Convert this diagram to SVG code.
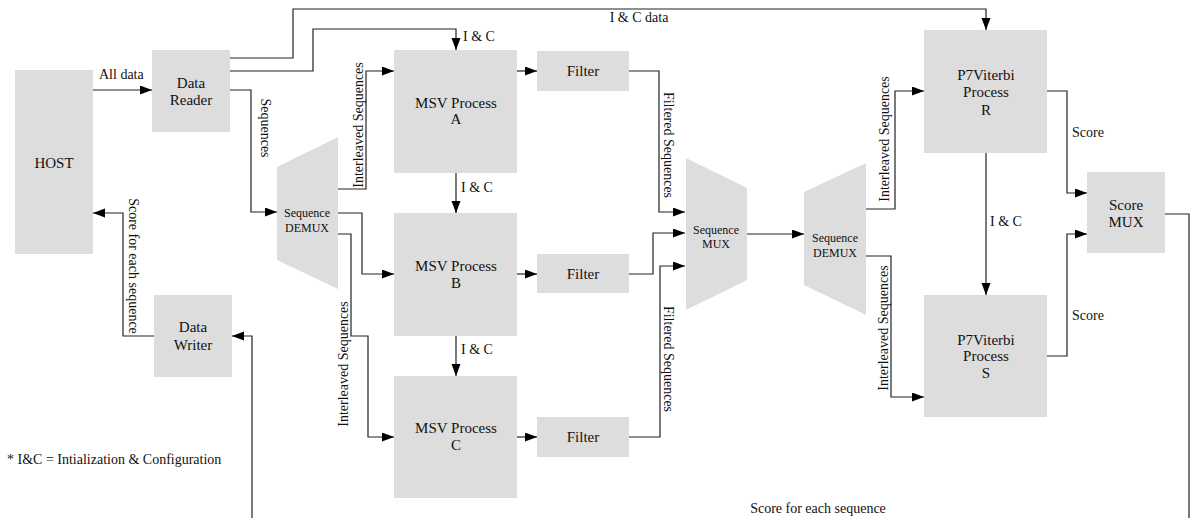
<svg xmlns="http://www.w3.org/2000/svg" width="1192" height="518" viewBox="0 0 1192 518" font-family="'Liberation Serif', 'DejaVu Serif', serif">
<defs>
<marker id="ah" markerWidth="12" markerHeight="10" refX="12" refY="4.5" orient="auto" markerUnits="userSpaceOnUse">
<path d="M0,0 L12,4.5 L0,9 z" fill="#000"/>
</marker>
<style>
text{font-family:'Liberation Serif','DejaVu Serif',serif}
.box{fill:#dddddd;stroke:none}
.t{font-size:15px;fill:#111;text-anchor:middle}
.s{font-size:12px;fill:#111;text-anchor:middle}
.l{font-size:14px;fill:#111}
.lc{font-size:14px;fill:#111;text-anchor:middle;dominant-baseline:central}
.c{fill:none;stroke:#222;stroke-width:1.2}
.a{marker-end:url(#ah)}
</style>
</defs>
<rect width="1192" height="518" fill="#fff"/>

<g id="host"><rect class="box" x="15" y="70" width="78" height="184"/><text class="t" x="54" y="168">HOST</text></g>
<g id="data-reader"><rect class="box" x="152" y="50" width="78" height="82"/><text class="t" x="191" y="88">Data</text><text class="t" x="191" y="105">Reader</text></g>
<g id="data-writer"><rect class="box" x="154" y="295" width="78" height="82"/><text class="t" x="193" y="332">Data</text><text class="t" x="193" y="350">Writer</text></g>
<g id="demux1"><polygon class="box" points="277,167 338,137 338,289 277,260"/><text class="s" x="307" y="217">Sequence</text><text class="s" x="307" y="232">DEMUX</text></g>
<g id="msv-a"><rect class="box" x="394" y="50" width="123" height="123"/><text class="t" x="456" y="108">MSV Process</text><text class="t" x="456" y="124">A</text></g>
<g id="msv-b"><rect class="box" x="394" y="213" width="123" height="123"/><text class="t" x="456" y="271">MSV Process</text><text class="t" x="456" y="288">B</text></g>
<g id="msv-c"><rect class="box" x="394" y="376" width="123" height="122"/><text class="t" x="456" y="433">MSV Process</text><text class="t" x="456" y="450">C</text></g>
<g id="filter-a"><rect class="box" x="537" y="51" width="92" height="40"/><text class="t" x="583" y="76">Filter</text></g>
<g id="filter-b"><rect class="box" x="537" y="254" width="92" height="39"/><text class="t" x="583" y="279">Filter</text></g>
<g id="filter-c"><rect class="box" x="537" y="417" width="92" height="40"/><text class="t" x="583" y="442">Filter</text></g>
<g id="mux1"><polygon class="box" points="686,158 747,188 747,280 686,310"/><text class="s" x="716" y="234">Sequence</text><text class="s" x="716" y="248">MUX</text></g>
<g id="demux2"><polygon class="box" points="804,192 866,163 866,315 804,285"/><text class="s" x="835" y="242">Sequence</text><text class="s" x="835" y="257">DEMUX</text></g>
<g id="p7-r"><rect class="box" x="924" y="30" width="123" height="123"/><text class="t" x="986" y="80">P7Viterbi</text><text class="t" x="986" y="97">Process</text><text class="t" x="986" y="115">R</text></g>
<g id="p7-s"><rect class="box" x="924" y="295" width="123" height="122"/><text class="t" x="986" y="345">P7Viterbi</text><text class="t" x="986" y="361">Process</text><text class="t" x="986" y="378">S</text></g>
<g id="score-mux"><rect class="box" x="1087" y="172" width="78" height="81"/><text class="t" x="1126" y="210">Score</text><text class="t" x="1126" y="227">MUX</text></g>

<g id="connectors">
<path class="c a" d="M93 90 H152"/>
<path class="c a" d="M230 58 H293 V9 H986 V30"/>
<path class="c a" d="M230 71 H313 V29 H456 V50"/>
<path class="c a" d="M230 90 H251 V212 H277"/>
<path class="c a" d="M338 189 H366 V71 H394"/>
<path class="c a" d="M338 213 H362 V274 H394"/>
<path class="c a" d="M338 234 H351 V336 H368 V437 H394"/>
<path class="c a" d="M456 173 V213"/>
<path class="c a" d="M456 336 V376"/>
<path class="c a" d="M517 71 H537"/>
<path class="c a" d="M517 274 H537"/>
<path class="c a" d="M517 437 H537"/>
<path class="c a" d="M629 71 H659 V212 H685"/>
<path class="c a" d="M629 274 H653 V233 H685"/>
<path class="c a" d="M629 437 H660 V266 H685"/>
<path class="c a" d="M747 234 H804"/>
<path class="c a" d="M866 209 H895 V91 H924"/>
<path class="c a" d="M866 256 H891 V397 H924"/>
<path class="c a" d="M986 153 V295"/>
<path class="c a" d="M1047 91 H1067 V193 H1087"/>
<path class="c a" d="M1047 356 H1067 V234 H1087"/>
<path class="c" d="M1165 214 H1189 V518"/>
<path class="c a" d="M252 518 V336 H232"/>
<path class="c a" d="M154 336 H123 V213 H93"/>

<text class="l" x="99" y="79">All data</text>
<text class="l" x="639" y="22" text-anchor="middle">I &amp; C data</text>
<text class="l" x="463" y="41">I &amp; C</text>
<text class="l" x="461" y="192">I &amp; C</text>
<text class="l" x="461" y="354">I &amp; C</text>
<text class="l" x="990" y="226">I &amp; C</text>
<text class="l" x="1072" y="137">Score</text>
<text class="l" x="1072" y="320">Score</text>
<text class="lc" transform="translate(265,128) rotate(90)">Sequences</text>
<text class="lc" transform="translate(358,125) rotate(-90)">Interleaved Sequences</text>
<text class="lc" transform="translate(343,364) rotate(-90)">Interleaved Sequences</text>
<text class="lc" transform="translate(668,145) rotate(90)">Filtered Sequences</text>
<text class="lc" transform="translate(668,359) rotate(90)">Filtered Sequences</text>
<text class="lc" transform="translate(884,139) rotate(-90)">Interleaved Sequences</text>
<text class="lc" transform="translate(883,328) rotate(-90)">Interleaved Sequences</text>
<text class="lc" transform="translate(133,266) rotate(90)">Score for each sequence</text>
<text class="l" x="818" y="513" text-anchor="middle">Score for each sequence</text>
<text class="l" x="7" y="464">* I&amp;C = Intialization &amp; Configuration</text>
</g>
</svg>
